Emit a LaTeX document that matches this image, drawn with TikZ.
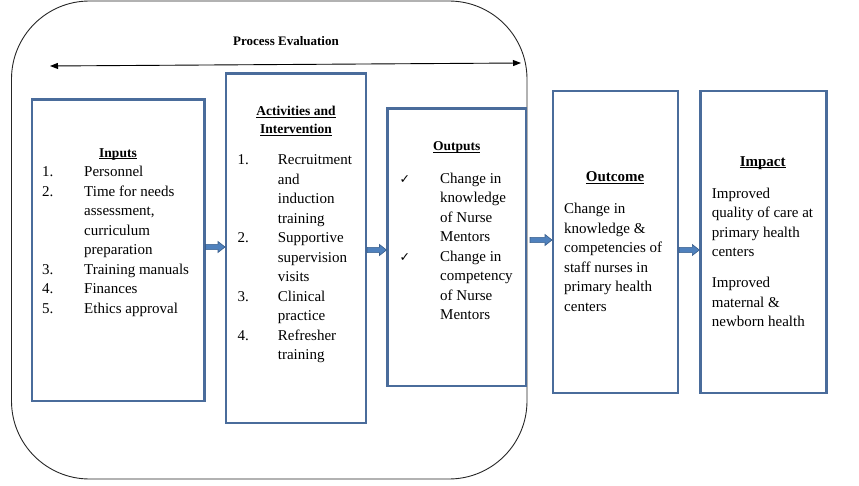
\documentclass[tikz,border=0pt]{standalone}
\usepackage{fontspec}
\setmainfont{Liberation Serif}
\newfontfamily\symfont{DejaVu Sans}
\usetikzlibrary{arrows.meta,calc}
\definecolor{boxblue}{RGB}{74,108,155}
\definecolor{arrowfill}{RGB}{79,129,189}
\definecolor{arrowline}{RGB}{56,93,138}
\newcommand{\myul}[1]{\setbox0\hbox{#1}\rlap{\rule[-1.6pt]{\wd0}{0.75pt}}\box0}
\newcommand{\bodyfont}{\fontsize{15}{19.5}\selectfont}
\newcommand{\headfont}{\fontsize{13.5}{18.3}\selectfont\bfseries}
\newcommand{\bigheadfont}{\fontsize{15}{18}\selectfont\bfseries}
\newcommand{\ck}{{\symfont\fontsize{12.5}{14}\selectfont ✓}}
\newcommand{\blockarrow}[2]{\draw[barrow] let \p1=(#1), \p2=(#2) in
  (\x1,\y1+2.6) -- (\x2-7,\y1+2.6) -- (\x2-7,\y1+5.5) -- (\x2,\y1) --
  (\x2-7,\y1-5.5) -- (\x2-7,\y1-2.6) -- (\x1,\y1-2.6) -- cycle;}
\begin{document}
\begin{tikzpicture}[x=1pt,y=-1pt,
  box/.style={draw=boxblue,line width=2.5pt,outer sep=0pt,inner sep=0pt,anchor=north west},
  body/.style={anchor=base west,inner sep=0pt,font=\bodyfont},
  head/.style={anchor=base,inner sep=0pt,font=\headfont},
  bighead/.style={anchor=base,inner sep=0pt,font=\bigheadfont},
  barrow/.style={fill=arrowfill,draw=arrowline,line width=0.6pt,line join=miter}]
\useasboundingbox (0,0) rectangle (859,486);
% frame
\draw[line width=0.9pt, black!85, rounded corners=78pt] (11.5,1) rectangle (527,479);
\coordinate (pl) at (50,66);
\coordinate (pr) at (521,63);
\draw[line width=0.9pt, {Triangle[length=8pt,width=6pt]}-{Triangle[length=8pt,width=6pt]}] (pl) -- (pr);
\node[anchor=base, inner sep=0pt, font=\fontsize{13}{15}\selectfont\bfseries] (pe) at (286,46) {Process Evaluation};
% boxes
\node[box, minimum width=172.5pt, minimum height=301.5pt] (in) at (32,99.5) {};
\node[box, minimum width=140pt, minimum height=349.7pt] (act) at (226,73.3) {};
\node[box, minimum width=138.5pt, minimum height=277.5pt] (out) at (387.5,108.5) {};
\node[box, minimum width=125pt, minimum height=302pt] (oc) at (553,91) {};
\node[box, minimum width=126pt, minimum height=302pt] (im) at (700.3,91) {};
% headings
\node[head] (inh) at (118,157.3) {\myul{Inputs}};
\node[head] (acth) at (296,115.7) {\begin{tabular}[t]{@{}c@{}}\myul{Activities and}\\\myul{Intervention}\end{tabular}};
\node[head] (outh) at (456.7,150.7) {\myul{Outputs}};
\node[bighead] (och) at (615,182) {\myul{Outcome}};
\node[bighead] (imh) at (762.7,166.5) {\myul{Impact}};
% body texts
\node[body] (intext) at (42,176.7) {\begin{tabular}[t]{@{}p{42pt}@{}l@{}}1. & Personnel\\ 2. & Time for needs\\ & assessment,\\ & curriculum\\ & preparation\\ 3. & Training manuals\\ 4. & Finances\\ 5. & Ethics approval\end{tabular}};
\node[body] (acttext) at (237.3,165) {\begin{tabular}[t]{@{}p{40.4pt}@{}l@{}}1. & Recruitment\\ & and\\ & induction\\ & training\\ 2. & Supportive\\ & supervision\\ & visits\\ 3. & Clinical\\ & practice\\ 4. & Refresher\\ & training\end{tabular}};
\node[body] (outtext) at (399.5,183.3) {\begin{tabular}[t]{@{}p{40.5pt}@{}l@{}}\ck & Change in\\ & knowledge\\ & of Nurse\\ & Mentors\\ \ck & Change in\\ & competency\\ & of Nurse\\ & Mentors\end{tabular}};
\node[body] (octext) at (564,214) {\begin{tabular}[t]{@{}l@{}}Change in\\ knowledge \&\\ competencies of\\ staff nurses in\\ primary health\\ centers\end{tabular}};
\node[body] (imtext) at (711.7,198.3) {\begin{tabular}[t]{@{}l@{}}Improved\\ quality of care at\\ primary health\\ centers\\[11.5pt] Improved\\ maternal \&\\ newborn health\end{tabular}};
% block arrows
\coordinate (a1s) at ([xshift=1pt]in.east |- 0,247);
\coordinate (a1e) at ([xshift=-1pt]act.west |- 0,247);
\coordinate (a2s) at ([xshift=1pt]act.east |- 0,250);
\coordinate (a2e) at ([xshift=-1pt]out.west |- 0,250);
\coordinate (a3s) at ([xshift=4pt]out.east |- 0,240);
\coordinate (a3e) at ([xshift=-1pt]oc.west |- 0,240);
\coordinate (a4s) at ([xshift=1pt]oc.east |- 0,250);
\coordinate (a4e) at ([xshift=-1pt]im.west |- 0,250);
\blockarrow{a1s}{a1e}
\blockarrow{a2s}{a2e}
\blockarrow{a3s}{a3e}
\blockarrow{a4s}{a4e}
\end{tikzpicture}
\end{document}
